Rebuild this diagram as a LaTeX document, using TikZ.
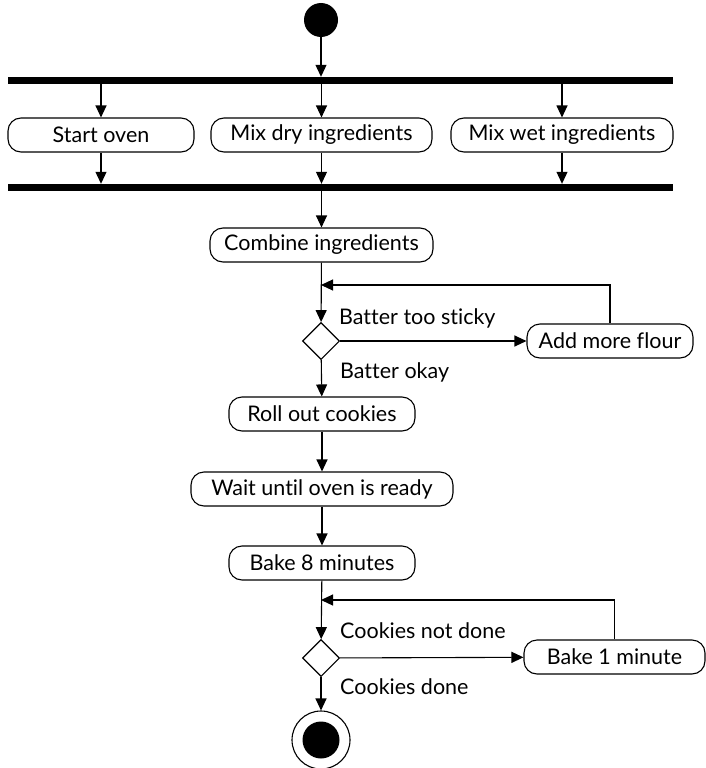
\documentclass[tikz,border=0pt]{standalone}
\usepackage{fontspec}
\setmainfont[Ligatures=CommonOff]{Lato}
\usetikzlibrary{arrows.meta,shapes.geometric}
\begin{document}
\begin{tikzpicture}[x=1pt,y=-1pt,
  every node/.style={font=\fontsize{21.5}{25}\selectfont},
  act/.style={draw,line width=1.1pt,rounded corners=13pt,minimum height=34pt,inner sep=0pt,fill=white},
  bar/.style={fill=black,draw=none,minimum height=7pt,inner sep=0pt},
  dec/.style={draw,diamond,line width=1.1pt,minimum width=37pt,minimum height=37pt,inner sep=0pt,fill=white},
  lbl/.style={anchor=west,inner sep=0pt},
  flow/.style={line width=1.1pt,-{Triangle[length=12pt,width=11pt]}},
  plain/.style={line width=1.1pt}]
\useasboundingbox (0,0) rectangle (706,768);
\node[circle,fill=black,minimum size=34pt,inner sep=0pt] (start) at (321,20) {};
\node[bar,minimum width=665pt] (fork) at (340.5,80.5) {};
\node[act,minimum width=186pt] (oven) at (101,135) {Start oven};
\node[act,minimum width=221pt] (dry) at (321.5,135) {Mix dry ingredients};
\node[act,minimum width=222pt] (wet) at (562,135) {Mix wet ingredients};
\node[bar,minimum width=665pt] (join) at (340.5,187.5) {};
\node[act,minimum width=223pt] (combine) at (321.5,245) {Combine ingredients};
\coordinate (loopa) at (321,285);
\node[dec] (d1) at (321,341) {};
\node[act,minimum width=166pt] (flour) at (610,341) {Add more flour};
\node[lbl] (l1) at (339,318) {Batter too sticky};
\node[lbl] (l2) at (340,372) {Batter okay};
\node[act,minimum width=186pt] (roll) at (322,414) {Roll out cookies};
\node[act,minimum width=262pt] (wait) at (322,489) {Wait until oven is ready};
\node[act,minimum width=186pt] (bake) at (322,563) {Bake 8 minutes};
\coordinate (loopb) at (321,600);
\node[dec] (d2) at (321,658) {};
\node[act,minimum width=181pt] (bake1) at (614.5,657) {Bake 1 minute};
\node[lbl] (l3) at (340,631) {Cookies not done};
\node[lbl] (l4) at (340,687) {Cookies done};
\node[circle,draw,line width=1.1pt,minimum size=58pt,inner sep=0pt] (endo) at (321,740) {};
\node[circle,fill=black,minimum size=37pt,inner sep=0pt] (endi) at (endo) {};
\draw[flow] (start) -- (start |- fork.north);
\draw[flow] (oven |- fork.south) -- (oven);
\draw[flow] (dry |- fork.south) -- (dry);
\draw[flow] (wet |- fork.south) -- (wet);
\draw[flow] (oven) -- (oven |- join.north);
\draw[flow] (dry) -- (dry |- join.north);
\draw[flow] (wet) -- (wet |- join.north);
\draw[flow] (join.south -| combine) -- (combine);
\draw[flow] (combine) -- (d1);
\draw[flow] (d1) -- (flour);
\draw[flow] (flour.north) |- (loopa);
\draw[flow] (d1) -- (roll);
\draw[flow] (roll) -- (wait);
\draw[flow] (wait) -- (bake);
\draw[flow] (bake) -- (d2);
\draw[flow] (d2) -- (bake1);
\draw[flow] (bake1.north) |- (loopb);
\draw[flow] (d2) -- (endo);
\end{tikzpicture}
\end{document}
